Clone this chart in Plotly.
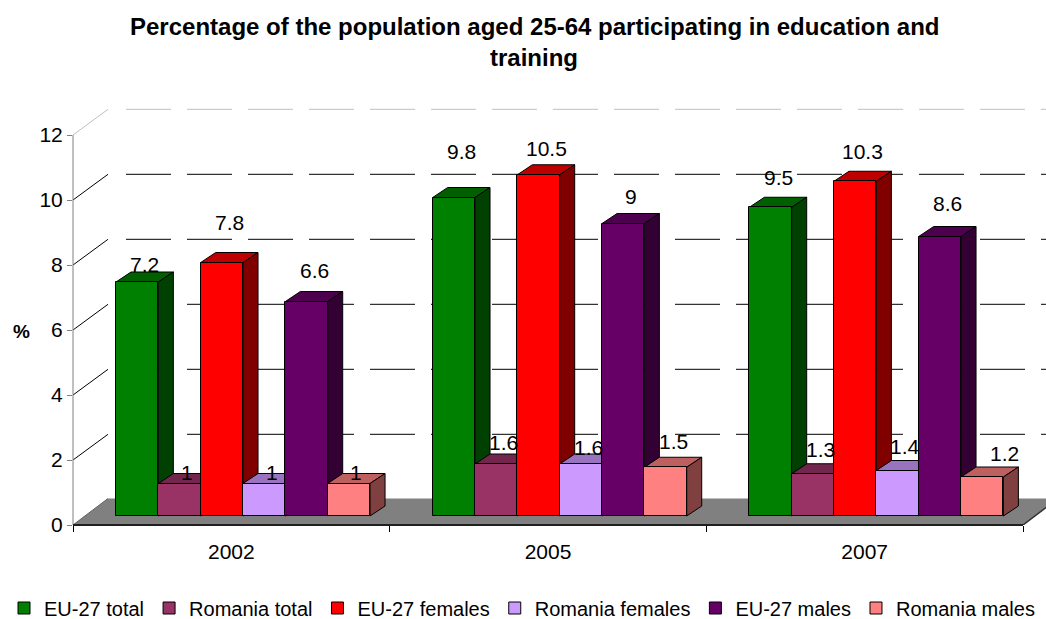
import plotly.graph_objects as go

# ---------------- data ----------------
years = ["2002", "2005", "2007"]
series_names = ["EU-27 total", "Romania total", "EU-27 females",
                "Romania females", "EU-27 males", "Romania males"]
eu27_total = [7.2, 9.8, 9.5]
romania_total = [1.0, 1.6, 1.3]
eu27_females = [7.8, 10.5, 10.3]
romania_females = [1.0, 1.6, 1.4]
eu27_males = [6.6, 9.0, 8.6]
romania_males = [1.0, 1.5, 1.2]
y_ticks = [0, 2, 4, 6, 8, 10, 12]
title_lines = ["Percentage of the population aged 25-64 participating in education and",
               "training"]
y_title = "%"

series_values = [eu27_total, romania_total, eu27_females,
                 romania_females, eu27_males, romania_males]

# ---------------- styles ----------------
front_colors = ["#008000", "#993366", "#FF0000", "#CC99FF", "#660066", "#FF8080"]
top_colors = ["#006000", "#73264D", "#BF0000", "#9973BF", "#4D004D", "#BF6060"]
side_colors = ["#004000", "#4D1933", "#800000", "#664D80", "#330033", "#804040"]
# label lift above the bar's top-back edge (px), per series / per year
label_lift = [[8, 36, 20], [1, 12, 14], [30, 16, 20],
              [1, 7, 14], [21, 17, 23], [1, 16, 14]]
label_dx = [[0, 0, 0], [0, 0, 0], [0, 0, 0], [0, 0, 0], [0, 0, 0], [0, 0, 15]]

FONT = "Liberation Sans, Arial, sans-serif"
W, H = 1046, 619
L, R, T, B = 73, 1046, 100, 525          # plot area in px
PX = 950 / 3                              # px per category
PY = 32.5                                 # px per value unit
XMAX = (R - L) / PX
YMAX = (B - T) / PY

# 3-D geometry (converted from px into axis units)
WALL_DX, WALL_DY = 35 / PX, 25.7 / PY
FLOOR_DY = 26.5 / PY
BAR_FX, BAR_BASE = 12.3 / PX, 9 / PY
BAR_DX, BAR_DY = 15 / PX, 10 / PY
PAD = 0.097
BW = 0.1337
GRID_START = (126 - L) / PX


def path(pts):
    return "M " + " L ".join(f"{x:.5f},{y:.5f}" for x, y in pts) + " Z"


def paper_x(px):
    return (px - L) / (R - L)


def paper_y(py):
    return (B - py) / (B - T)


shapes = []
ncat = len(years)
# floor
shapes.append(dict(type="path", xref="x", yref="y", layer="below",
                   path=path([(0, 0), (ncat, 0), (ncat + WALL_DX, FLOOR_DY), (WALL_DX, FLOOR_DY)]),
                   fillcolor="#808080", line=dict(width=0)))
shapes.append(dict(type="line", xref="x", yref="y", layer="below",
                   x0=WALL_DX, y0=FLOOR_DY, x1=ncat + WALL_DX, y1=FLOOR_DY,
                   line=dict(color="#C0C0C0", width=1)))
shapes.append(dict(type="line", xref="x", yref="y", layer="below",
                   x0=ncat, y0=0, x1=ncat + WALL_DX, y1=FLOOR_DY,
                   line=dict(color="#303030", width=1.5)))
shapes.append(dict(type="line", xref="x", yref="y", layer="below",
                   x0=0, y0=0, x1=WALL_DX, y1=FLOOR_DY,
                   line=dict(color="#606060", width=1)))

# gridlines: left wall diagonals and back wall dashed lines
for v in y_ticks[1:]:
    col = "#C0C0C0" if v == y_ticks[-1] else "#000000"
    shapes.append(dict(type="line", xref="x", yref="y", layer="below",
                       x0=0, y0=v, x1=WALL_DX, y1=v + WALL_DY,
                       line=dict(color=col, width=1)))
    shapes.append(dict(type="line", xref="x", yref="y", layer="below",
                       x0=GRID_START, y0=v + WALL_DY, x1=ncat + 0.3, y1=v + WALL_DY,
                       line=dict(color=col, width=1, dash="45px,16px")))

# bar top and side faces (front faces are the Bar traces)
annotations = []
for g in range(ncat):
    for k, vals in enumerate(series_values):
        v = vals[g]
        x0 = g + PAD + BAR_FX + k * BW
        x1 = x0 + BW
        b = BAR_BASE
        t = BAR_BASE + v
        shapes.append(dict(type="path", xref="x", yref="y", layer="below",
                           path=path([(x0, t), (x1, t), (x1 + BAR_DX, t + BAR_DY), (x0 + BAR_DX, t + BAR_DY)]),
                           fillcolor=top_colors[k], line=dict(color="#000000", width=1)))
        shapes.append(dict(type="path", xref="x", yref="y", layer="below",
                           path=path([(x1, b), (x1, t), (x1 + BAR_DX, t + BAR_DY), (x1 + BAR_DX, b + BAR_DY)]),
                           fillcolor=side_colors[k], line=dict(color="#000000", width=1)))
        annotations.append(dict(x=(x0 + x1) / 2 + BAR_DX / 2, y=t + BAR_DY, xref="x", yref="y",
                                text=f"{v:g}", showarrow=False, xanchor="center", yanchor="middle",
                                xshift=label_dx[k][g], yshift=label_lift[k][g],
                                font=dict(family=FONT, size=21, color="#000000")))

# axis lines (only over the value / category span)
shapes.append(dict(type="line", xref="paper", yref="paper", layer="above",
                   x0=0, y0=0, x1=0, y1=y_ticks[-1] / YMAX,
                   line=dict(color="#808080", width=1)))
shapes.append(dict(type="line", xref="paper", yref="paper", layer="above",
                   x0=0, y0=0, x1=ncat / XMAX, y1=0,
                   line=dict(color="#202020", width=2)))

fig = go.Figure()
for k, (name, vals) in enumerate(zip(series_names, series_values)):
    xs = [g + PAD + BAR_FX + (k + 0.5) * BW for g in range(ncat)]
    fig.add_trace(go.Bar(
        x=xs, y=vals, base=BAR_BASE, width=BW, name=name,
        marker=dict(color=front_colors[k], line=dict(color="#000000", width=1)),
        hoverinfo="skip",
    ))

# "%" axis title and the two-line chart title
annotations.append(dict(x=paper_x(21), y=paper_y(331), xref="paper", yref="paper",
                        text=f"<b>{y_title}</b>", showarrow=False,
                        xanchor="center", yanchor="middle",
                        font=dict(family=FONT, size=19, color="#000000")))
for i, (line, py) in enumerate(zip(title_lines, [27, 58])):
    annotations.append(dict(x=paper_x(534), y=paper_y(py), xref="paper", yref="paper",
                            text=f"<b>{line}</b>", showarrow=False,
                            xanchor="center", yanchor="middle",
                            font=dict(family=FONT, size=24, color="#000000")))

fig.update_layout(
    width=W, height=H,
    margin=dict(l=L, r=W - R, t=T, b=H - B, autoexpand=False),
    paper_bgcolor="#FFFFFF", plot_bgcolor="#FFFFFF",
    barmode="overlay", bargap=0,
    font=dict(family=FONT, color="#000000"),
    xaxis=dict(range=[0, XMAX], tickvals=[g + 0.5 for g in range(ncat)], ticktext=years,
               ticks="", showgrid=False, zeroline=False, showline=False,
               tickfont=dict(family=FONT, size=21), ticklabelstandoff=12,
               minor=dict(tickvals=list(range(ncat + 1)), ticks="outside", ticklen=6,
                          tickcolor="#000000", tickwidth=1, showgrid=False),
               fixedrange=True),
    yaxis=dict(range=[0, YMAX], tickvals=y_ticks, ticks="outside", ticklen=5,
               tickcolor="#808080", showgrid=False, zeroline=False, showline=False,
               tickfont=dict(family=FONT, size=21), fixedrange=True),
    legend=dict(orientation="h", xref="paper", yref="paper",
                x=paper_x(4), xanchor="left", y=paper_y(608), yanchor="middle",
                font=dict(family=FONT, size=20), traceorder="normal",
                bgcolor="rgba(0,0,0,0)"),
    shapes=shapes, annotations=annotations,
)

fig.write_html("out.html")
